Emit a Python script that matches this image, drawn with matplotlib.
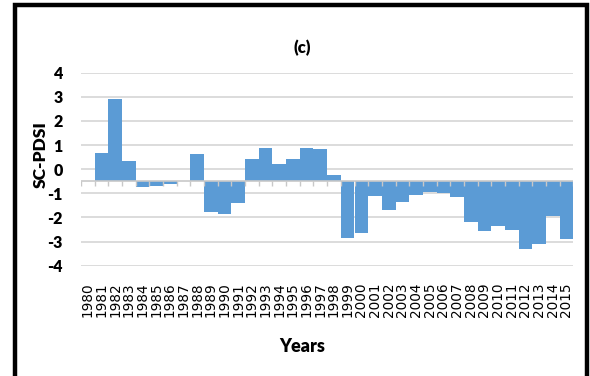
"""SC-PDSI yearly bar chart, panel (c)."""

import matplotlib
matplotlib.use("Agg")
import matplotlib.pyplot as plt
from matplotlib.patches import Rectangle
import numpy as np

years = list(range(1980, 2016))
sc_pdsi = [
    -0.48, 0.69, 2.89, 0.36, -0.75, -0.69, -0.61, -0.48, 0.65, -1.77,
    -1.87, -1.42, 0.44, 0.88, 0.21, 0.41, 0.88, 0.82, -0.26, -2.85,
    -2.63, -1.11, -1.70, -1.36, -1.09, -0.95, -1.00, -1.15, -2.17, -2.57,
    -2.35, -2.50, -3.32, -3.08, -1.95, -2.88,
]
y_ticks = [4, 3, 2, 1, 0, -1, -2, -3, -4]
axis_cross = -0.48  # the category axis crosses the value axis here

BAR_COLOR = "#5B9BD5"
GRID_COLOR = "#D9D9D9"
LABEL_FONT = ["Lato", "DejaVu Sans"]

W, H = 590, 376
fig = plt.figure(figsize=(W / 100, H / 100), dpi=100)
fig.patch.set_facecolor("white")

ax = fig.add_axes([81 / W, 1 - 265.7 / H, (573.3 - 81) / W, (265.7 - 72.7) / H])

x = np.arange(len(years))
vals = np.array(sc_pdsi)
ax.bar(x, vals - axis_cross, bottom=axis_cross, width=1.0,
       color=BAR_COLOR, linewidth=0, zorder=2)

ax.set_xlim(-0.5, len(years) - 0.5)
ax.set_ylim(min(y_ticks), max(y_ticks))
for v in y_ticks:
    ax.axhline(v, color=GRID_COLOR, lw=1.3, zorder=1)

# category axis line with small tick marks between categories
tick_len = 5 / 24.1
ax.axhline(axis_cross, color="#C8C8C8", lw=1.2, zorder=3)
ax.vlines(np.arange(-0.5, len(years)), axis_cross - tick_len, axis_cross,
          color="#C8C8C8", lw=1.0, zorder=3)

for s in ax.spines.values():
    s.set_visible(False)

ax.set_yticks(y_ticks)
ax.set_yticklabels([str(v) for v in y_ticks], family=LABEL_FONT,
                   fontweight="heavy", fontsize=11.5)
ax.tick_params(axis="y", length=0, pad=13)

ax.set_xticks(x)
ax.set_xticklabels([str(y) for y in years], rotation=90, fontsize=9.8,
                   family="DejaVu Sans")
ax.tick_params(axis="x", length=0, pad=12)

fig.text(302 / W, 1 - 48 / H, "(c)", ha="center", va="center",
         family=LABEL_FONT, fontweight="heavy", fontsize=12)
fig.text(41 / W, 1 - 155 / H, "SC-PDSI", ha="center", va="center",
         rotation=90, family=LABEL_FONT, fontweight="heavy", fontsize=12.5)
fig.text(302 / W, 1 - 346 / H, "Years", ha="center", va="center",
         family=LABEL_FONT, fontweight="heavy", fontsize=13)

# heavy outer frame
fig.patches.append(Rectangle((14.5 / W, -0.05), (587 - 14.5) / W, 1.05 - 5 / H,
                             transform=fig.transFigure, fill=False,
                             edgecolor="black", lw=3.2))

fig.savefig("out.png", dpi=100, facecolor="white")
